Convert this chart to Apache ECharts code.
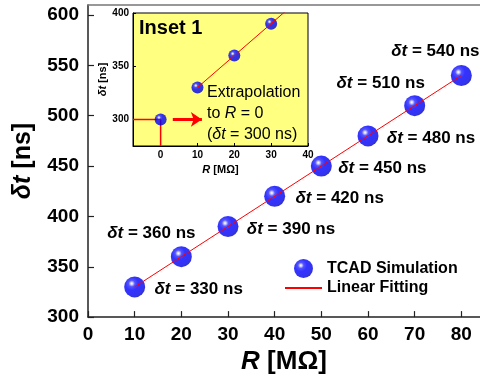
<!DOCTYPE html>
<html><head><meta charset="utf-8">
<script src="https://cdn.jsdelivr.net/npm/echarts@6/dist/echarts.min.js"></script>
<style>html,body{margin:0;padding:0;background:#fff}#c{width:480px;height:380px}</style>
</head><body><div id="c"></div>
<script>
// ---- data ----
const resistance = [10, 20, 30, 40, 50, 60, 70, 80];
const delayNs = [330, 360, 390, 420, 450, 480, 510, 540];
const fitR = [10, 80];
const fitDelay = [330, 540];
const xTicks = [0, 10, 20, 30, 40, 50, 60, 70, 80];
const yTicks = [300, 350, 400, 450, 500, 550, 600];
const insetR = [0, 10, 20, 30];
const insetDelay = [300, 330, 360, 390];
const insetFitR = [10, 40];
const insetFitDelay = [330, 420];
const insetXTicks = [0, 10, 20, 30, 40];
const insetYTicks = [300, 350, 400];
const extrapR = [-7.5, 0, 0];
const extrapDelay = [300, 300, 275];
const arrowR = [3.3, 11.2];
const arrowDelay = [300, 300];

// ---- layout (label offsets from point centre, px) ----
const labelOffsets = [[64, 2], [-30, -23], [63, 3], [65, 2], [61, 2], [63, 2], [-34, -22], [-26, -24]];

const FONT = 'Liberation Sans, Arial, sans-serif';
const sphere = () => new echarts.graphic.RadialGradient(0.36, 0.34, 0.7, [
  {offset: 0, color: '#ffffff'},
  {offset: 0.07, color: '#d0d0ff'},
  {offset: 0.22, color: '#2828ff'},
  {offset: 0.45, color: '#0000ff'},
  {offset: 0.85, color: '#0000ee'},
  {offset: 1, color: '#0000b0'}
]);
const zip = (a, b) => a.map((v, i) => [v, b[i]]);

const chart = echarts.init(document.getElementById('c'), null, {renderer: 'canvas'});
const boldLbl = (size) => ({fontFamily: FONT, fontWeight: 'bold', fontSize: size, color: '#000'});

chart.setOption({
  animation: false,
  backgroundColor: '#fff',
  grid: [
    {left: 88, top: 5, width: 392, height: 313, show: false},
    {left: 133, top: 13, width: 175, height: 133, show: true, backgroundColor: '#ffff80', borderColor: '#000', borderWidth: 1, z: 5}
  ],
  xAxis: [
    {gridIndex: 0, type: 'value', min: 0, max: 84,
     name: '{i|R} [MΩ]', nameLocation: 'middle', nameGap: 30,
     nameTextStyle: {fontFamily: FONT, fontWeight: 'bold', fontSize: 26, color: '#000',
       rich: {i: {fontFamily: FONT, fontWeight: 'bold', fontStyle: 'italic', fontSize: 26, color: '#000'}}},
     axisLine: {show: true, onZero: false, lineStyle: {color: '#222', width: 1.5}},
     axisTick: {show: true, inside: true, length: 6, customValues: xTicks, lineStyle: {color: '#222', width: 1.2}},
     axisLabel: Object.assign({customValues: xTicks, margin: 8}, boldLbl(19)),
     splitLine: {show: false}},
    {gridIndex: 0, type: 'value', position: 'top', min: 0, max: 84,
     axisLine: {show: true, onZero: false, lineStyle: {color: '#777', width: 1.5}},
     axisTick: {show: false}, axisLabel: {show: false}, splitLine: {show: false}},
    {gridIndex: 1, type: 'value', min: -7.5, max: 40,
     name: '{i|R} [MΩ]', nameLocation: 'middle', nameGap: 18,
     nameTextStyle: {fontFamily: FONT, fontWeight: 'bold', fontSize: 11, color: '#000',
       rich: {i: {fontFamily: FONT, fontWeight: 'bold', fontStyle: 'italic', fontSize: 11, color: '#000'}}},
     axisLine: {show: true, onZero: false, lineStyle: {color: '#000', width: 1}},
     axisTick: {show: true, inside: true, length: 3, customValues: insetXTicks},
     axisLabel: Object.assign({customValues: insetXTicks, margin: 4}, boldLbl(10)),
     splitLine: {show: false}, z: 6}
  ],
  yAxis: [
    {gridIndex: 0, type: 'value', min: 300, max: 610,
     name: '{i|δt} [ns]', nameLocation: 'middle', nameGap: 52,
     nameTextStyle: {fontFamily: FONT, fontWeight: 'bold', fontSize: 25, color: '#000',
       rich: {i: {fontFamily: FONT, fontWeight: 'bold', fontStyle: 'italic', fontSize: 25, color: '#000'}}},
     axisLine: {show: true, onZero: false, lineStyle: {color: '#222', width: 1.5}},
     axisTick: {show: true, inside: true, length: 6, customValues: yTicks, lineStyle: {color: '#222', width: 1.2}},
     axisLabel: Object.assign({customValues: yTicks, margin: 9}, boldLbl(19)),
     splitLine: {show: false}},
    {gridIndex: 1, type: 'value', min: 275, max: 400,
     name: '{i|δt} [ns]', nameLocation: 'middle', nameGap: 23,
     nameTextStyle: {fontFamily: FONT, fontWeight: 'bold', fontSize: 11, color: '#000',
       rich: {i: {fontFamily: FONT, fontWeight: 'bold', fontStyle: 'italic', fontSize: 11, color: '#000'}}},
     axisLine: {show: true, onZero: false, lineStyle: {color: '#000', width: 1}},
     axisTick: {show: true, inside: true, length: 3, customValues: insetYTicks},
     axisLabel: Object.assign({customValues: insetYTicks, margin: 4}, boldLbl(10)),
     splitLine: {show: false}, z: 6}
  ],
  legend: {
    orient: 'vertical', left: 284, top: 259, padding: 0, itemWidth: 37, itemHeight: 19, itemGap: 2,
    textStyle: {fontFamily: FONT, fontWeight: 'bold', fontSize: 16, color: '#000'},
    data: [{name: 'TCAD Simulation', icon: 'circle'},
           {name: 'Linear Fitting', itemStyle: {opacity: 0}}]
  },
  series: [
    {name: 'TCAD Simulation', type: 'scatter', xAxisIndex: 0, yAxisIndex: 0, z: 2,
     symbolSize: 21, itemStyle: {color: sphere()},
     data: resistance.map((r, i) => ({
       value: [r, delayNs[i]],
       label: {show: true, position: 'inside', offset: labelOffsets[i],
         formatter: '{i|δt} = ' + delayNs[i] + ' ns',
         fontFamily: FONT, fontWeight: 'bold', fontSize: 17, color: '#000',
         textBorderWidth: 0, textBorderColor: 'transparent', opacity: 1,
         rich: {i: {fontFamily: FONT, fontWeight: 'bold', fontStyle: 'italic', fontSize: 17, color: '#000', textBorderWidth: 0}}}
     }))},
    {name: 'Linear Fitting', type: 'line', xAxisIndex: 0, yAxisIndex: 0, z: 3,
     symbol: 'none', lineStyle: {color: '#ff0000', width: 1}, itemStyle: {color: '#ff0000'},
     data: zip(fitR, fitDelay)},
    {name: 'insetDrop', type: 'line', xAxisIndex: 2, yAxisIndex: 1, z: 7,
     symbol: 'none', lineStyle: {color: '#ff0000', width: 1.5},
     data: zip(extrapR, extrapDelay),
     markLine: {silent: true, symbol: ['none', 'arrow'], symbolSize: 11,
       label: {show: false}, lineStyle: {color: '#ff0000', width: 3, type: 'solid'},
       data: [[{coord: [arrowR[0], arrowDelay[0]]}, {coord: [arrowR[1], arrowDelay[1]]}]]}},
    {name: 'insetFit', type: 'line', xAxisIndex: 2, yAxisIndex: 1, z: 8, clip: true,
     symbol: 'none', lineStyle: {color: '#ff0000', width: 1},
     data: zip(insetFitR, insetFitDelay)},
    {name: 'insetPts', type: 'scatter', xAxisIndex: 2, yAxisIndex: 1, z: 7,
     symbolSize: 12, itemStyle: {color: sphere()},
     data: zip(insetR, insetDelay)}
  ],
  graphic: [
    {type: 'text', left: 139, top: 18, z: 20,
     style: {text: 'Inset 1', fontFamily: FONT, fontWeight: 'bold', fontSize: 20, fill: '#000'}},
    {type: 'text', left: 207, top: 82, z: 20,
     style: {text: 'Extrapolation\nto {i|R} = 0\n({i|δt} = 300 ns)', fontFamily: FONT, fontSize: 16, lineHeight: 21, fill: '#000',
       rich: {i: {fontFamily: FONT, fontSize: 16, fontStyle: 'italic', fill: '#000', lineHeight: 21}}}}
  ]
});
</script></body></html>
